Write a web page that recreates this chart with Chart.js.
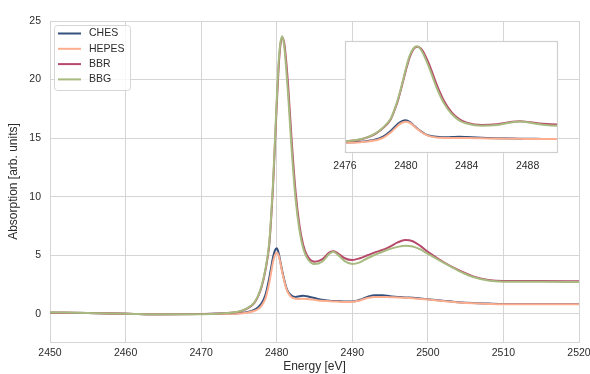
<!DOCTYPE html>
<html>
<head>
<meta charset="utf-8">
<title>Absorption spectra</title>
<script src="https://cdn.jsdelivr.net/npm/chart.js@4.4.1/dist/chart.umd.min.js"></script>
<style>
    body { margin: 0; background: #fff; }
    #wrap { position: relative; width: 590px; height: 374px; }
    #mainChart { position: absolute; left: 0; top: 0; }
    #insetChart { position: absolute; left: 330px; top: 30px; }
</style>
</head>
<body>
<div id="wrap">
    <canvas id="mainChart" width="590" height="374"></canvas>
    <canvas id="insetChart" width="250" height="150"></canvas>
</div>
<script>
// Energy grid [eV], denser around the edge
const energy = [2450, 2455, 2460, 2465, 2470, 2473, 2475, 2476, 2477, 2477.5,
    2478, 2478.5, 2479, 2479.25, 2479.5, 2479.75, 2480, 2480.25, 2480.5, 2480.75,
    2481, 2481.25, 2481.5, 2482, 2482.5, 2483, 2483.5, 2484, 2485, 2486,
    2487, 2487.5, 2488, 2489, 2490, 2491, 2492, 2493, 2494, 2495,
    2496, 2497, 2498, 2499, 2500, 2502, 2504, 2506, 2508, 2510,
    2512, 2515, 2520];

// Absorption [arb. units]
const ches = [0.1, 0.07, 0.02, -0.03, -0.02, 0.02, 0.05, 0.15, 0.35, 0.55,
    0.9, 1.6, 3.0, 3.9, 4.8, 5.4, 5.6, 5.2, 4.4, 3.6,
    2.9, 2.3, 1.9, 1.55, 1.45, 1.5, 1.55, 1.5, 1.35, 1.2,
    1.12, 1.1, 1.1, 1.05, 1.05, 1.2, 1.45, 1.6, 1.6, 1.5,
    1.45, 1.4, 1.38, 1.32, 1.25, 1.12, 1.0, 0.92, 0.88, 0.85,
    0.85, 0.85, 0.85];
const hepes = [0.1, 0.07, 0.02, -0.03, -0.02, 0.0, 0.03, 0.1, 0.25, 0.4,
    0.7, 1.3, 2.6, 3.5, 4.4, 5.0, 5.25, 5.0, 4.3, 3.5,
    2.8, 2.2, 1.8, 1.4, 1.3, 1.28, 1.3, 1.28, 1.2, 1.12,
    1.08, 1.06, 1.05, 1.02, 1.02, 1.15, 1.35, 1.45, 1.45, 1.42,
    1.4, 1.37, 1.33, 1.28, 1.22, 1.1, 0.98, 0.9, 0.85, 0.82,
    0.82, 0.82, 0.82];
const bbr = [0.1, 0.07, 0.02, -0.03, -0.02, 0.05, 0.18, 0.42, 0.9, 1.45,
    2.3, 3.7, 5.8, 8.0, 10.7, 14.2, 17.8, 21.0, 23.0, 23.6,
    23.1, 21.6, 19.6, 14.6, 10.4, 7.6, 5.9, 5.0, 4.45, 4.65,
    5.25, 5.35, 5.2, 4.75, 4.6, 4.75, 5.0, 5.25, 5.45, 5.75,
    6.1, 6.3, 6.2, 5.8, 5.3, 4.45, 3.75, 3.2, 2.9, 2.8,
    2.8, 2.8, 2.78];
const bbg = [0.12, 0.08, 0.02, -0.04, -0.03, 0.05, 0.2, 0.45, 0.95, 1.5,
    2.4, 3.8, 6.0, 8.2, 11.0, 14.5, 18.2, 21.4, 23.2, 23.7,
    22.8, 21.0, 18.8, 13.8, 9.8, 7.2, 5.6, 4.8, 4.25, 4.45,
    5.15, 5.3, 5.1, 4.5, 4.25, 4.4, 4.75, 5.05, 5.3, 5.55,
    5.72, 5.82, 5.75, 5.5, 5.12, 4.4, 3.7, 3.15, 2.85, 2.75,
    2.74, 2.74, 2.72];

const seriesNames = ['CHES', 'HEPES', 'BBR', 'BBG'];
const seriesColors = ['#34507d', '#fcae8e', '#b7496b', '#a7ba7f'];

// Tick labels
const xTicks = [2450, 2460, 2470, 2480, 2490, 2500, 2510, 2520];
const yTicks = [0, 5, 10, 15, 20, 25];
const insetTicks = [2476, 2480, 2484, 2488];

const FONT = '"Liberation Sans", Arial, sans-serif';
const TEXT = '#2b2b2b';
const GRID = '#d5d5d5';

/**
 * Build line datasets from the series arrays
 */
function buildDatasets() {
    const values = [ches, hepes, bbr, bbg];
    return values.map(function(series, i) {
        return {
            label: seriesNames[i],
            data: energy.map((e, j) => ({ x: e, y: series[j] })),
            borderColor: seriesColors[i],
            backgroundColor: seriesColors[i],
            borderWidth: 2,
            pointRadius: 0,
            cubicInterpolationMode: 'monotone',
            // later series on top, like matplotlib
            order: values.length - i
        };
    });
}

// plain numbers, no thousands separator
function plainLabel(value) {
    return String(value);
}

// fixed axis height, no extra room for the end labels
function fitHeight(h) {
    return function(scale) {
        scale.height = h;
        scale.paddingLeft = 0;
        scale.paddingRight = 0;
    };
}

/**
 * Legend in a framed box at the top left of the plot
 */
const boxLegend = {
    id: 'boxLegend',
    afterDatasetsDraw(chart) {
        const ctx = chart.ctx;
        const area = chart.chartArea;
        const left = area.left + 4;
        const top = area.top + 4;

        ctx.save();
        ctx.beginPath();
        if (ctx.roundRect) {
            ctx.roundRect(left + 0.5, top + 0.5, 76, 65, 3);
        } else {
            ctx.rect(left + 0.5, top + 0.5, 76, 65);
        }
        ctx.fillStyle = 'rgba(255, 255, 255, 0.8)';
        ctx.fill();
        ctx.strokeStyle = '#d6d6d6';
        ctx.lineWidth = 1;
        ctx.stroke();

        ctx.font = '10.5px ' + FONT;
        ctx.textBaseline = 'middle';
        chart.data.datasets.forEach(function(ds, i) {
            const y = top + 8.5 + i * 15.3;
            ctx.strokeStyle = ds.borderColor;
            ctx.lineWidth = 2;
            ctx.beginPath();
            ctx.moveTo(left + 4, y);
            ctx.lineTo(left + 27, y);
            ctx.stroke();
            ctx.fillStyle = TEXT;
            ctx.fillText(ds.label, left + 35, y);
        });
        ctx.restore();
    }
};

/**
 * White background and grey frame for the zoomed inset
 */
const insetFrame = {
    id: 'insetFrame',
    beforeDatasetsDraw(chart) {
        const a = chart.chartArea;
        chart.ctx.save();
        chart.ctx.fillStyle = '#ffffff';
        chart.ctx.fillRect(a.left, a.top, a.right - a.left, a.bottom - a.top);
        chart.ctx.restore();
    },
    afterDraw(chart) {
        const a = chart.chartArea;
        const ctx = chart.ctx;
        ctx.save();
        ctx.strokeStyle = '#cfcfcf';
        ctx.lineWidth = 1.2;
        ctx.strokeRect(a.left + 0.5, a.top + 0.5, a.right - a.left - 1, a.bottom - a.top - 1);
        ctx.restore();
    }
};

function initMainChart() {
    const ctx = document.getElementById('mainChart');
    new Chart(ctx, {
        type: 'line',
        data: { datasets: buildDatasets() },
        options: {
            responsive: false,
            animation: false,
            devicePixelRatio: 1,
            layout: { padding: { top: 21, right: 11, left: 0, bottom: 0 } },
            plugins: {
                legend: { display: false },
                tooltip: { enabled: false }
            },
            scales: {
                x: {
                    type: 'linear',
                    min: 2450,
                    max: 2520,
                    afterBuildTicks: function(scale) {
                        scale.ticks = xTicks.map(v => ({ value: v }));
                    },
                    afterFit: fitHeight(32),
                    ticks: {
                        font: { family: FONT, size: 10.5 },
                        color: TEXT,
                        padding: 5,
                        maxRotation: 0,
                        callback: plainLabel
                    },
                    grid: { color: GRID, drawTicks: false },
                    border: { color: GRID },
                    title: {
                        display: true,
                        text: 'Energy [eV]',
                        font: { family: FONT, size: 12 },
                        color: TEXT,
                        padding: 0
                    }
                },
                y: {
                    min: -2.4,
                    max: 25,
                    afterBuildTicks: function(scale) {
                        scale.ticks = yTicks.map(v => ({ value: v }));
                    },
                    afterFit: function(scale) { scale.width = 50; },
                    ticks: {
                        font: { family: FONT, size: 10.5 },
                        color: TEXT,
                        padding: 9,
                        callback: plainLabel
                    },
                    grid: { color: GRID, drawTicks: false },
                    border: { color: GRID },
                    title: {
                        display: true,
                        text: 'Absorption [arb. units]',
                        font: { family: FONT, size: 12 },
                        color: TEXT,
                        padding: { top: 6, bottom: 0 }
                    }
                }
            }
        },
        plugins: [boxLegend]
    });
}

function initInsetChart() {
    const ctx = document.getElementById('insetChart');
    new Chart(ctx, {
        type: 'line',
        data: { datasets: buildDatasets() },
        options: {
            responsive: false,
            animation: false,
            devicePixelRatio: 1,
            layout: { padding: { top: 11, right: 22, left: 15, bottom: 0 } },
            plugins: {
                legend: { display: false },
                tooltip: { enabled: false }
            },
            scales: {
                x: {
                    type: 'linear',
                    min: 2476,
                    max: 2490,
                    afterBuildTicks: function(scale) {
                        scale.ticks = insetTicks.map(v => ({ value: v }));
                    },
                    afterFit: fitHeight(27),
                    ticks: {
                        font: { family: FONT, size: 10.5 },
                        color: TEXT,
                        padding: 7,
                        maxRotation: 0,
                        callback: plainLabel
                    },
                    grid: { display: false, drawTicks: false },
                    border: { display: false }
                },
                y: {
                    display: false,
                    min: -2.4,
                    max: 25
                }
            }
        },
        plugins: [insetFrame]
    });
}

document.addEventListener('DOMContentLoaded', function() {
    initMainChart();
    initInsetChart();
});
</script>
</body>
</html>
